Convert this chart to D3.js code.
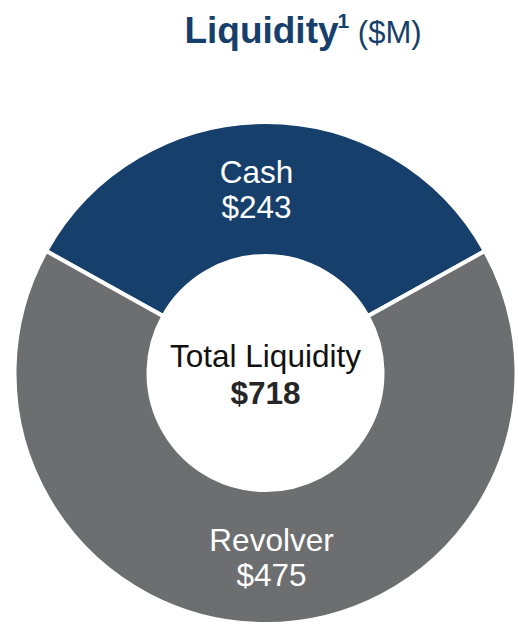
<!DOCTYPE html>
<html>
<head>
<meta charset="utf-8">
<script src="https://cdn.jsdelivr.net/npm/d3@7"></script>
<style>
  body { margin: 0; background: #fff; }
  svg { display: block; font-family: "Liberation Sans", Arial, sans-serif; }
</style>
</head>
<body>
<div id="chart"></div>
<script>
const categories = ["Cash", "Revolver"];
const values = [243, 475];
const colors = ["#173f6c", "#6d6e70"];
const totalLabel = "Total Liquidity";

const width = 518, height = 624;
const cx = 265.5, cy = 373;
const outerR = 251, innerR = 117;
const total = d3.sum(values);

const svg = d3.select("#chart").append("svg")
  .attr("width", width)
  .attr("height", height);

// title
const title = svg.append("text")
  .attr("x", 303)
  .attr("y", 43)
  .attr("text-anchor", "middle")
  .attr("fill", "#173f6c");
title.append("tspan").attr("font-weight", "bold").attr("font-size", 37).text("Liquidity");
title.append("tspan").attr("font-weight", "bold").attr("font-size", 21).attr("dx", -1).attr("dy", -15).text("1");
title.append("tspan").attr("font-size", 31).attr("dy", 15).text(" ($M)");

// cash centred on top
const half = Math.PI * values[0] / total;
const pie = d3.pie().sort(null).value(d => d)
  .startAngle(-half).endAngle(2 * Math.PI - half);

const arc = d3.arc().innerRadius(innerR).outerRadius(outerR);

const g = svg.append("g").attr("transform", `translate(${cx},${cy})`);
const arcs = pie(values);

g.selectAll("path")
  .data(arcs)
  .enter()
  .append("path")
  .attr("d", arc)
  .attr("fill", (d, i) => colors[i])
  .attr("stroke", "#fff")
  .attr("stroke-width", 4);

const dxs = [-9, 6];
const lbl = g.selectAll("text.lbl")
  .data(arcs)
  .enter()
  .append("text")
  .attr("class", "lbl")
  .attr("text-anchor", "middle")
  .attr("fill", "#fff")
  .attr("font-size", 31.5)
  .attr("transform", (d, i) => {
    const c = arc.centroid(d);
    return `translate(${c[0] + dxs[i]},${c[1]})`;
  });
lbl.append("tspan").attr("x", 0).attr("y", -6).text((d, i) => categories[i]);
lbl.append("tspan").attr("x", 0).attr("y", 29).text(d => "$" + d.value);

// centre
g.append("text")
  .attr("text-anchor", "middle")
  .attr("y", -6)
  .attr("font-size", 31.5)
  .attr("fill", "#111")
  .text(totalLabel);
g.append("text")
  .attr("text-anchor", "middle")
  .attr("y", 31)
  .attr("font-size", 31.5)
  .attr("font-weight", "bold")
  .attr("fill", "#262626")
  .text("$" + total);
</script>
</body>
</html>
